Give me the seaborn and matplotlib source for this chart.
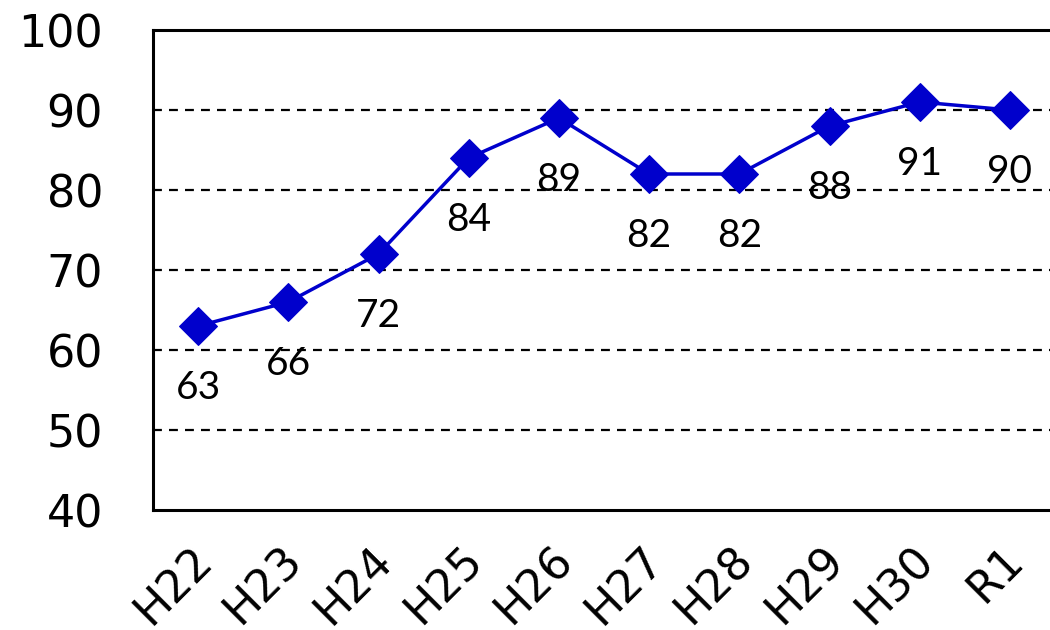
import matplotlib
matplotlib.use("Agg")
import matplotlib.pyplot as plt
import matplotlib.transforms as mtransforms
import seaborn as sns
import pandas as pd

categories = ["H22", "H23", "H24", "H25", "H26", "H27", "H28", "H29", "H30", "R1"]
values = [63, 66, 72, 84, 89, 82, 82, 88, 91, 90]
y_ticks = [40, 50, 60, 70, 80, 90, 100]

sns.set_theme(style="white")
plt.rcParams['font.family'] = ['DejaVu Sans']

df = pd.DataFrame({"idx": range(len(categories)), "value": values})

fig = plt.figure(figsize=(10.5, 6.3), dpi=100)
ax = fig.add_axes([153/1050, 120/630, (1055-153)/1050, 480/630])

for yv in [50, 60, 70, 80, 90]:
    ax.axhline(yv, color="black", lw=1.6, ls=(0, (4, 3.2)), zorder=1)

sns.lineplot(data=df, x="idx", y="value", ax=ax, color="#0000CC", lw=2.5,
             marker="D", markersize=19, markeredgecolor="#0000CC",
             markerfacecolor="#0000CC", zorder=3)

for i, v in enumerate(values):
    ax.annotate(str(v), (i, v), xytext=(0, -44.5), textcoords="offset points",
                ha="center", va="center", fontsize=28, family=["Lato", "DejaVu Sans"],
                color="black", zorder=4)

ax.set_xlim(-0.5, len(categories) - 0.5)
ax.set_ylim(40, 100)
ax.set_yticks(y_ticks)
ax.set_yticklabels([str(t) for t in y_ticks], fontsize=32, color="black")
ax.set_xticks(range(len(categories)))
ax.set_xticklabels(categories, fontsize=32, rotation=45, ha="right",
                   rotation_mode="anchor", color="black")
ax.tick_params(axis="x", length=0, pad=20)
ax.tick_params(axis="y", length=0, pad=36)
shift = mtransforms.ScaledTranslation(-8/100, 0, fig.dpi_scale_trans)
for lbl in ax.get_xticklabels():
    lbl.set_transform(lbl.get_transform() + shift)
ax.set_xlabel("")
ax.set_ylabel("")

for s in ["left", "top", "bottom"]:
    ax.spines[s].set_visible(True)
    ax.spines[s].set_color("black")
    ax.spines[s].set_linewidth(2.2)
ax.spines["right"].set_visible(False)

fig.savefig("out.png", dpi=100)
